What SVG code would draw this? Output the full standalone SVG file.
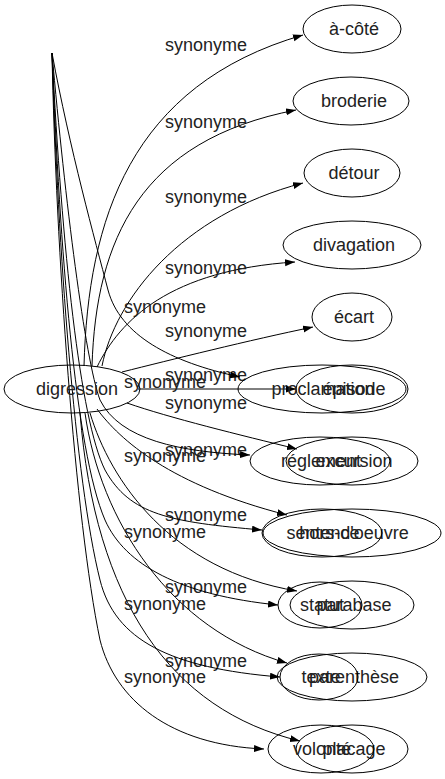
<svg xmlns="http://www.w3.org/2000/svg" width="445" height="779" viewBox="0 0 445 779">
<style>
.n ellipse{fill:none;stroke:#000;stroke-width:1}
.n text,.e text{font-family:"Liberation Sans",Arial,sans-serif;font-size:18px;fill:#222;text-anchor:middle}
.e path{fill:none;stroke:#000;stroke-width:1;marker-end:url(#arr)}
</style>
<defs>
<marker id="arr" markerUnits="userSpaceOnUse" markerWidth="11" markerHeight="8" refX="10" refY="3.5" orient="auto">
<path d="M0,0 L10,3.5 L0,7 z" fill="#000"/>
</marker>
</defs>
<rect width="445" height="779" fill="#fff"/>
<g id="connectors">
<g class="e"><path d="M84,366 C88,220 130,85 303,35"/><text x="206" y="51">synonyme</text></g>
<g class="e"><path d="M92,366 C96,240 140,140 296,110"/><text x="206" y="128">synonyme</text></g>
<g class="e"><path d="M102,366 C115,300 180,215 303,183"/><text x="206" y="203">synonyme</text></g>
<g class="e"><path d="M97,367 C120,320 170,270 295,262"/><text x="206" y="274">synonyme</text></g>
<g class="e"><path d="M122,372 C170,360 250,340 313,327"/><text x="206" y="337">synonyme</text></g>
<g class="e"><path d="M138,389 L296,389"/><text x="206" y="381">synonyme</text></g>
<g class="e"><path d="M127,403 C170,418 240,435 297,449"/><text x="206" y="409">synonyme</text></g>
<g class="e"><path d="M97,409 C120,440 170,485 287,515"/><text x="206" y="456">synonyme</text></g>
<g class="e"><path d="M90,413 C110,480 170,570 297,591"/><text x="206" y="521">synonyme</text></g>
<g class="e"><path d="M85,413 C100,520 170,630 287,663"/><text x="206" y="593">synonyme</text></g>
<g class="e"><path d="M80,413 C95,600 170,710 300,741"/><text x="206" y="667">synonyme</text></g>
<g class="e"><path d="M52,53 C70,150 95,240 108,290 C120,335 170,362 240,377"/><text x="165" y="313">synonyme</text></g>
<g class="e"><path d="M52,53 C65,200 85,360 100,400 C120,440 180,452 250,455"/><text x="165" y="388">synonyme</text></g>
<g class="e"><path d="M52,53 C62,250 80,420 105,470 C130,515 170,522 262,530"/><text x="165" y="462">synonyme</text></g>
<g class="e"><path d="M52,53 C60,250 75,450 105,520 C125,565 180,595 278,605"/><text x="165" y="538">synonyme</text></g>
<g class="e"><path d="M52,53 C58,250 75,480 100,580 C115,640 170,668 280,677"/><text x="165" y="610">synonyme</text></g>
<g class="e"><path d="M52,53 C56,250 75,520 100,640 C115,700 170,745 264,749"/><text x="165" y="683">synonyme</text></g>
</g>
<g id="digression" class="n"><ellipse cx="72" cy="389" rx="68" ry="24"/><text x="77" y="395">digression</text></g>
<g id="a-cote" class="n"><ellipse cx="352" cy="29" rx="49" ry="24"/><text x="354" y="35">à-côté</text></g>
<g id="broderie" class="n"><ellipse cx="351" cy="101" rx="58" ry="24"/><text x="354" y="107">broderie</text></g>
<g id="detour" class="n"><ellipse cx="352" cy="173" rx="48" ry="24"/><text x="354" y="179">détour</text></g>
<g id="divagation" class="n"><ellipse cx="352" cy="245" rx="69" ry="24"/><text x="354" y="251">divagation</text></g>
<g id="ecart" class="n"><ellipse cx="352" cy="317" rx="40" ry="24"/><text x="354" y="323">écart</text></g>
<g id="episode" class="n"><ellipse cx="352" cy="389" rx="56" ry="24"/><text x="354" y="395">épisode</text></g>
<g id="excursion" class="n"><ellipse cx="352" cy="461" rx="66" ry="24"/><text x="354" y="467">excursion</text></g>
<g id="hors-doeuvre" class="n"><ellipse cx="352" cy="533" rx="89" ry="24"/><text x="354" y="539">hors-d'oeuvre</text></g>
<g id="parabase" class="n"><ellipse cx="352" cy="605" rx="62" ry="24"/><text x="354" y="611">parabase</text></g>
<g id="parenthese" class="n"><ellipse cx="352" cy="677" rx="75" ry="24"/><text x="354" y="683">parenthèse</text></g>
<g id="placage" class="n"><ellipse cx="352" cy="749" rx="56" ry="24"/><text x="354" y="755">placage</text></g>
<g id="proclamation" class="n"><ellipse cx="322" cy="389" rx="84" ry="24"/><text x="323" y="395">proclamation</text></g>
<g id="reglement" class="n"><ellipse cx="320" cy="461" rx="70" ry="24"/><text x="321" y="467">réglement</text></g>
<g id="sentence" class="n"><ellipse cx="322" cy="533" rx="60" ry="24"/><text x="323" y="539">sentence</text></g>
<g id="statut" class="n"><ellipse cx="320" cy="605" rx="42" ry="23"/><text x="322" y="611">statut</text></g>
<g id="texte" class="n"><ellipse cx="319" cy="677" rx="39" ry="23"/><text x="321" y="683">texte</text></g>
<g id="volonte" class="n"><ellipse cx="321" cy="749" rx="53" ry="24"/><text x="322" y="755">volonté</text></g>
</svg>
